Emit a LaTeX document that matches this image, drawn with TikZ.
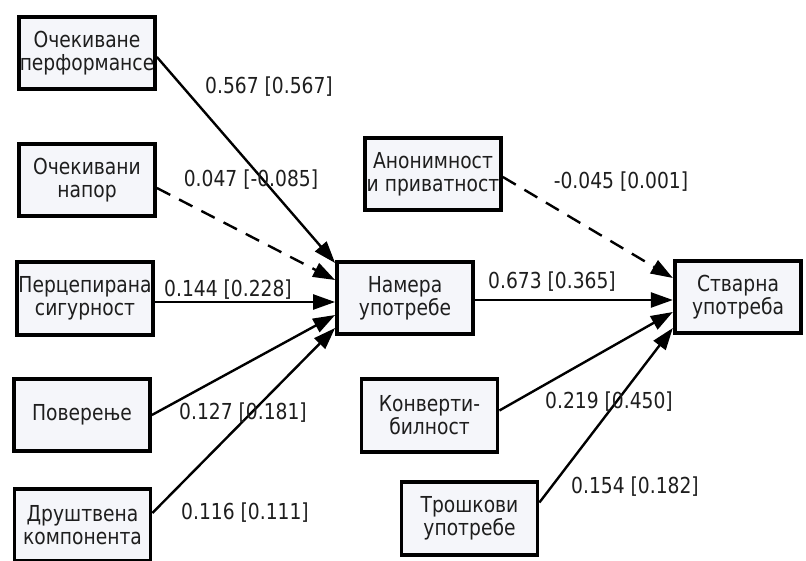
\documentclass[tikz,border=0pt]{standalone}
\usepackage{fontspec}
\setmainfont{DejaVu Sans}[FakeStretch=0.85]
\usetikzlibrary{arrows.meta}
\definecolor{boxfill}{RGB}{245,246,250}
\definecolor{ink}{RGB}{30,30,30}
\begin{document}
\begin{tikzpicture}[x=1pt,y=-1pt,
  box/.style={draw=black, line width=3.8pt, fill=boxfill, text=ink,
    minimum width=136pt, minimum height=72.5pt, inner sep=0pt,
    align=center, font=\fontsize{22}{23}\selectfont},
  lbl/.style={text=ink, inner sep=0pt, font=\fontsize{22}{23}\selectfont},
  link/.style={line width=2.4pt, -{Triangle[length=22pt,width=15pt]}},
  weak/.style={link, dash pattern=on 15pt off 10pt}]
\useasboundingbox (0,0) rectangle (806,561);
\clip (0,0) rectangle (806,561);
\fill[white] (0,0) rectangle (806,561);

% predictors of intention
\node[box] (pe) at (87,53) {Очекиване\\перформансе};
\node[box] (ee) at (87,180) {Очекивани\\напор};
\node[box] (ps) at (85,298.5) {Перцепирана\\сигурност};
\node[box] (tr) at (82,415) {Поверење};
\node[box] (sc) at (82.5,525) {Друштвена\\компонента};

% intention and actual use
\node[box] (bi) at (405,298) {Намера\\употребе};
\node[box, minimum width=126.5pt] (au) at (738,297) {Стварна\\употреба};

% predictors of actual use
\node[box] (ap) at (433,174) {Анонимност\\и приватност};
\node[box] (cv) at (429.5,415.5) {Конверти-\\билност};
\node[box] (co) at (469.5,518.5) {Трошкови\\употребе};

% paths into intention
\draw[link] ([yshift=-4pt]pe.east) -- ([yshift=35pt]bi.west);
\draw[weak] ([yshift=-8pt]ee.east) -- ([yshift=18pt]bi.west);
\draw[link] ([yshift=-3.5pt]ps.east) -- ([yshift=-4pt]bi.west);
\draw[link] (tr.east) -- ([yshift=-17pt]bi.west);
\draw[link] ([yshift=12pt]sc.east) -- ([yshift=-30pt]bi.west);

% paths into actual use
\draw[weak] ([yshift=-3pt]ap.east) -- ([yshift=19pt]au.west);
\draw[link] ([yshift=-2pt]bi.east) -- ([yshift=-3pt]au.west);
\draw[link] ([yshift=5pt]cv.east) -- ([yshift=-15pt]au.west);
\draw[link] ([yshift=16pt]co.east) -- ([yshift=-31pt]au.west);

% path coefficients
\node[lbl] (c1) at (269,87) {0.567 [0.567]};
\node[lbl] (c2) at (251,180) {0.047 [-0.085]};
\node[lbl] (c3) at (228,290) {0.144 [0.228]};
\node[lbl] (c4) at (243,413) {0.127 [0.181]};
\node[lbl] (c5) at (245,513) {0.116 [0.111]};
\node[lbl] (c6) at (621,182) {-0.045 [0.001]};
\node[lbl] (c7) at (552,282) {0.673 [0.365]};
\node[lbl] (c8) at (609,402) {0.219 [0.450]};
\node[lbl] (c9) at (635,487) {0.154 [0.182]};
\end{tikzpicture}
\end{document}
